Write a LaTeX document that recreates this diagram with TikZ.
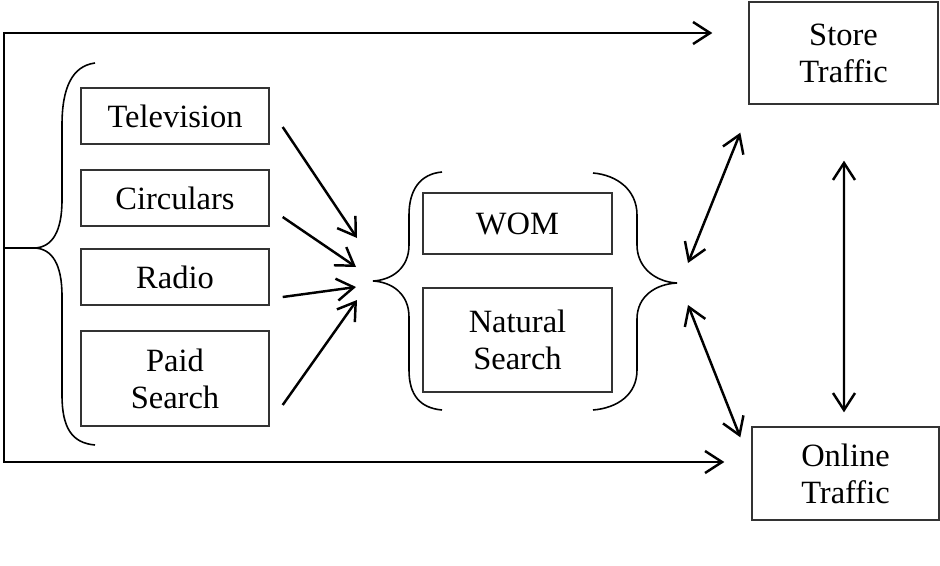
\documentclass[tikz,border=0pt]{standalone}
\usepackage{fontspec}
\setmainfont{Liberation Serif}
\usetikzlibrary{arrows.meta}

\begin{document}
\begin{tikzpicture}[x=0.02cm, y=-0.02cm,
    box/.style={draw=black!80, line width=0.8pt, inner sep=0pt, align=center,
      font=\fontsize{18.5}{21}\selectfont},
    arr/.style={line width=1.4pt, -{Straight Barb[length=0.34cm, width=0.44cm]}},
    dbl/.style={line width=1.4pt, {Straight Barb[length=0.34cm, width=0.44cm]}-{Straight Barb[length=0.34cm, width=0.44cm]}},
    brace/.style={line width=0.9pt}]
  \useasboundingbox (0,0) rectangle (940,565);
  % media boxes
  \node[box, minimum width=3.76cm, minimum height=1.12cm] (tv) at (175,116) {Television};
  \node[box, minimum width=3.76cm, minimum height=1.12cm] (circ) at (175,198) {Circulars};
  \node[box, minimum width=3.76cm, minimum height=1.12cm] (radio) at (175,277) {Radio};
  \node[box, minimum width=3.76cm, minimum height=1.9cm] (paid) at (175,378.5) {Paid\\Search};
  % middle boxes
  \node[box, minimum width=3.78cm, minimum height=1.22cm] (wom) at (517.5,223.5) {WOM};
  \node[box, minimum width=3.78cm, minimum height=2.08cm] (nat) at (517.5,340) {Natural\\Search};
  % traffic boxes
  \node[box, minimum width=3.78cm, minimum height=2.04cm] (store) at (843.5,53) {Store\\Traffic};
  \node[box, minimum width=3.74cm, minimum height=1.86cm] (online) at (845.5,473.5) {Online\\Traffic};
  % brace tips
  \coordinate (lb) at (35,248);
  \coordinate (ml) at (373,281);
  \coordinate (mr) at (677,283);
  \coordinate (spine) at (4,248);
  % braces
  \draw[brace] (95,63) .. controls (72,66) and (62,88) .. (62,125) -- (62,200)
    .. controls (62,232) and (52,247) .. (lb) .. controls (52,249) and (62,264) .. (62,296)
    -- (62,395) .. controls (62,428) and (72,443) .. (95,445);
  \draw[brace] (442,172) .. controls (420,174) and (409,190) .. (409,215) -- (409,245)
    .. controls (409,268) and (392,280) .. (ml) .. controls (392,282) and (409,294) .. (409,317)
    -- (409,370) .. controls (409,395) and (420,408) .. (442,410);
  \draw[brace] (593,173) .. controls (617,175) and (637,190) .. (637,215) -- (637,245)
    .. controls (637,268) and (656,282) .. (mr) .. controls (656,284) and (637,296) .. (637,319)
    -- (637,370) .. controls (637,395) and (617,408) .. (593,410);
  % all media feed both traffic boxes
  \draw[line width=1.4pt] (lb) -- (spine);
  \draw[arr] (spine) |- ([shift={(-36,-20)}]store.west);
  \draw[arr] (spine) |- ([shift={(-27,-11.5)}]online.west);
  % media into WOM / natural search
  \foreach \n/\sy/\tx/\ty in {tv/11/-16/-43, circ/19/-17/-14, radio/20/-17/6, paid/26.5/-16/19}
    \draw[arr] ([shift={(13,\sy)}]\n.east) -- ([shift={(\tx,\ty)}]ml);
  % links to traffic
  \draw[dbl] ([shift={(-8,28)}]store.south west) -- ([shift={(11,-20)}]mr);
  \draw[dbl] ([shift={(11,22)}]mr) -- ([shift={(-11,11)}]online.north west);
  \draw[dbl] ([shift={(0.5,56)}]store.south) -- ([shift={(-1.5,-14)}]online.north);
\end{tikzpicture}
\end{document}
